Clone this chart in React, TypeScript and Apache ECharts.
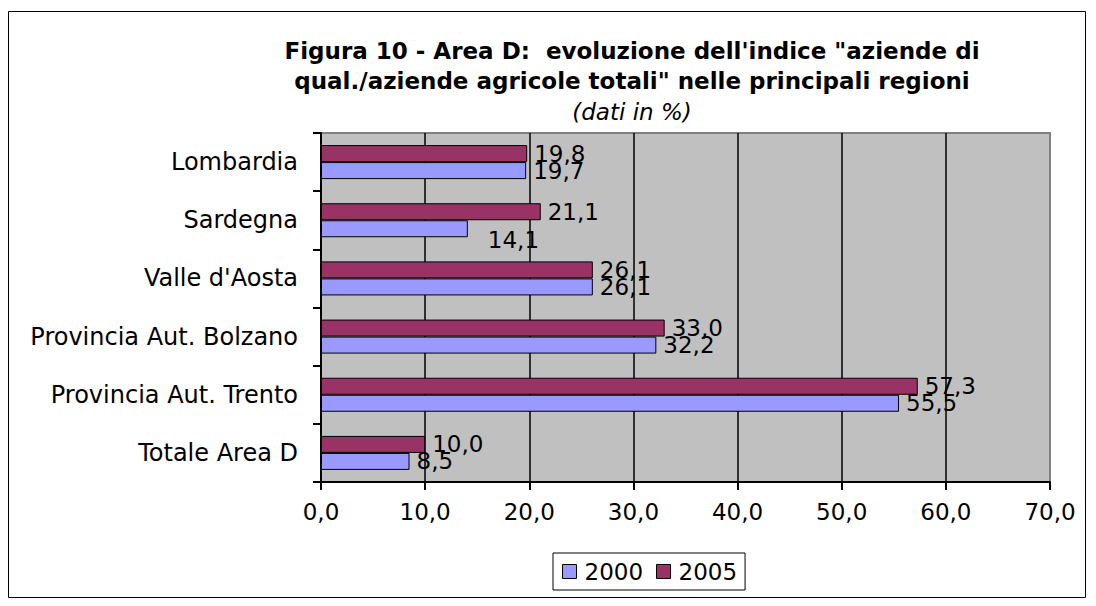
import React, { useEffect, useRef } from "react";
import * as echarts from "echarts";

const categories = [
  "Lombardia",
  "Sardegna",
  "Valle d'Aosta",
  "Provincia Aut. Bolzano",
  "Provincia Aut. Trento",
  "Totale Area D",
];
const seriesNames = ["2000", "2005"];
const values2000 = [19.7, 14.1, 26.1, 32.2, 55.5, 8.5];
const values2005 = [19.8, 21.1, 26.1, 33.0, 57.3, 10.0];
const xMin = 0;
const xMax = 70;
const xStep = 10;

const titleLines = [
  "Figura 10 - Area D:  evoluzione dell'indice \"aziende di",
  "qual./aziende agricole totali\" nelle principali regioni",
];
const subTitle = "(dati in %)";

const FONT = "DejaVu Sans";
const fmt = (v: number) => v.toFixed(1).replace(".", ",");

export default function App() {
  const ref = useRef<HTMLDivElement>(null);
  useEffect(() => {
    if (!ref.current) return;
    const chart = echarts.init(ref.current, null, { renderer: "svg" });
    const labelBase = {
      show: true,
      position: "right" as const,
      distance: 7,
      color: "#000",
      fontFamily: FONT,
      fontSize: 23,
      formatter: (p: any) => fmt(p.value),
    };
    const data2000 = values2000.map((v, i) =>
      categories[i] === "Sardegna"
        ? { value: v, label: { offset: [13, 11] } }
        : { value: v }
    );
    const data2005 = values2005.map((v) => ({ value: v }));
    chart.setOption({
      animation: false,
      backgroundColor: "#fff",
      textStyle: { fontFamily: FONT, color: "#000" },
      title: {
        text: titleLines.join("\n"),
        subtext: subTitle,
        left: 632,
        top: 36,
        textAlign: "center",
        itemGap: 1,
        padding: 0,
        textStyle: {
          fontFamily: FONT,
          fontWeight: "bold",
          fontSize: 23,
          lineHeight: 30,
          color: "#000",
        },
        subtextStyle: {
          fontFamily: FONT,
          fontStyle: "italic",
          fontSize: 23,
          lineHeight: 30,
          color: "#000",
        },
      },
      legend: {
        data: seriesNames,
        left: 553,
        top: 553,
        orient: "horizontal",
        icon: "rect",
        padding: [7, 8, 7, 9],
        itemWidth: 14,
        itemHeight: 14,
        itemGap: 13,
        borderColor: "#000",
        borderWidth: 1,
        itemStyle: { borderColor: "#000", borderWidth: 1 },
        textStyle: { fontFamily: FONT, fontSize: 23, color: "#000", padding: [0, 0, 0, 3] },
      },
      grid: {
        left: 321,
        top: 133,
        width: 729,
        height: 349,
        show: true,
        backgroundColor: "#C0C0C0",
        borderColor: "#808080",
        borderWidth: 2,
        containLabel: false,
      },
      xAxis: {
        type: "value",
        min: xMin,
        max: xMax,
        interval: xStep,
        axisLine: { show: true, lineStyle: { color: "#000", width: 2 } },
        axisTick: { show: true, length: 8, lineStyle: { color: "#000", width: 2 } },
        axisLabel: {
          fontFamily: FONT,
          fontSize: 23,
          color: "#000",
          margin: 18,
          formatter: (v: number) => fmt(v),
        },
        splitLine: {
          show: true,
          showMinLine: false,
          showMaxLine: false,
          lineStyle: { color: "#000", width: 1.5 },
        },
      },
      yAxis: {
        type: "category",
        data: categories,
        inverse: true,
        axisLine: { show: true, lineStyle: { color: "#000", width: 2 } },
        axisTick: { show: true, length: 8, lineStyle: { color: "#000", width: 2 } },
        axisLabel: { fontFamily: FONT, fontSize: 24, color: "#000", margin: 23 },
        splitLine: { show: false },
      },
      series: [
        {
          name: seriesNames[1],
          type: "bar",
          data: data2005,
          barWidth: 17,
          barGap: "0%",
          itemStyle: { color: "#993366", borderColor: "#000", borderWidth: 1 },
          label: labelBase,
        },
        {
          name: seriesNames[0],
          type: "bar",
          data: data2000,
          barWidth: 17,
          barGap: "0%",
          itemStyle: { color: "#9999FF", borderColor: "#000", borderWidth: 1 },
          label: labelBase,
        },
      ],
      graphic: [
        {
          type: "rect",
          shape: { x: 8.5, y: 11.5, width: 1077, height: 586 },
          style: { fill: "none", stroke: "#000", lineWidth: 1 },
          silent: true,
        },
      ],
    });
    return () => chart.dispose();
  }, []);
  return (
    <div
      ref={ref}
      style={{ position: "fixed", left: 0, top: 0, width: 1096, height: 606 }}
    />
  );
}
